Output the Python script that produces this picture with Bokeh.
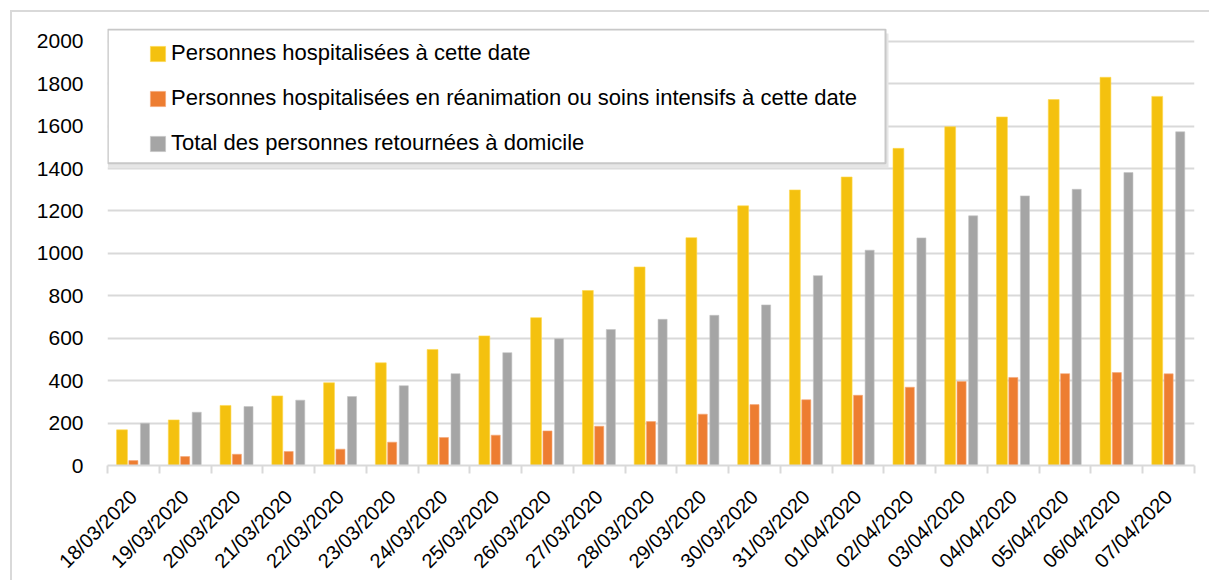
import numpy as np
from math import pi
from bokeh.plotting import figure
from bokeh.models import ColumnDataSource, Range1d, FixedTicker, Legend, LegendItem
from bokeh.transform import dodge
from bokeh.embed import file_html
from bokeh.resources import INLINE

dates = ["18/03/2020", "19/03/2020", "20/03/2020", "21/03/2020", "22/03/2020",
         "23/03/2020", "24/03/2020", "25/03/2020", "26/03/2020", "27/03/2020",
         "28/03/2020", "29/03/2020", "30/03/2020", "31/03/2020", "01/04/2020",
         "02/04/2020", "03/04/2020", "04/04/2020", "05/04/2020", "06/04/2020",
         "07/04/2020"]
hospitalises = [168, 215, 283, 328, 390, 484, 547, 611, 697, 825, 936, 1074,
                1224, 1299, 1360, 1495, 1597, 1643, 1725, 1830, 1740]
reanimation = [23, 42, 53, 66, 77, 110, 132, 143, 163, 185, 207, 242,
               287, 310, 331, 369, 396, 415, 433, 438, 432]
domicile = [199, 251, 278, 308, 325, 376, 433, 532, 598, 641, 689, 708,
            757, 895, 1015, 1073, 1177, 1271, 1302, 1381, 1573]
y_ticks = list(range(0, 2001, 200))

labels = ["Personnes hospitalisées à cette date",
          "Personnes hospitalisées en réanimation ou soins intensifs à cette date",
          "Total des personnes retournées à domicile"]
colors = ["#F4C10F", "#ED7D31", "#A5A5A5"]

n = len(dates)
centers = [i + 0.5 for i in range(n)]
bounds = [float(i) for i in range(n + 1)]

src = ColumnDataSource(dict(x=centers, h=hospitalises, r=reanimation, d=domicile))

FONT = "Liberation Sans"
p = figure(width=1199, height=570, x_range=Range1d(0, n), y_range=Range1d(0, 2060),
           output_backend="svg", toolbar_location=None, tools="",
           min_border_left=95, min_border_right=17, min_border_top=16,
           min_border_bottom=117)
p.styles = {"margin-left": "10px", "margin-top": "10px",
            "border-left": "2px solid #d9d9d9", "border-top": "2px solid #d9d9d9"}
p.outline_line_color = None
p.background_fill_color = "white"

# legend box (shadow + box)
px_x = n / 1087.0
px_y = 2060 / 436.7
lx0, lx1 = 0.3 * px_x, 778 * px_x
ly0, ly1 = 2000 - (163 - 41) * px_y, 2000 + (41 - 29.3) * px_y
p.quad(left=[lx0], right=[lx1 + 3 * px_x], bottom=[ly0 - 5 * px_y], top=[ly1 - 4 * px_y],
       fill_color="#e6e6e6", line_color=None)
p.quad(left=[lx0], right=[lx1], bottom=[ly0], top=[ly1],
       fill_color="white", line_color="#c8c8c8", line_width=2)

r1 = p.vbar(x=dodge("x", -0.22, range=p.x_range), top="h", width=0.21, source=src,
            fill_color=colors[0], line_color="#FFD84D", line_width=0.6)
r2 = p.vbar(x=dodge("x", 0.0, range=p.x_range), top="r", width=0.175, source=src,
            fill_color=colors[1], line_color="#F5A878", line_width=0.6)
r3 = p.vbar(x=dodge("x", 0.224, range=p.x_range), top="d", width=0.175, source=src,
            fill_color=colors[2], line_color="#C4C4C4", line_width=0.6)

# axes
p.yaxis.ticker = FixedTicker(ticks=y_ticks)
p.yaxis.axis_line_color = None
p.yaxis.major_tick_line_color = None
p.yaxis.major_tick_out = 0
p.yaxis.major_tick_in = 0
p.yaxis.minor_tick_line_color = None
p.yaxis.major_label_standoff = 24
p.yaxis.major_label_text_font = FONT
p.yaxis.major_label_text_font_size = "21px"
p.yaxis.major_label_text_color = "#000000"

p.xaxis.ticker = FixedTicker(ticks=centers, minor_ticks=bounds)
p.xaxis.major_label_overrides = {c: d for c, d in zip(centers, dates)}
p.xaxis.major_label_orientation = pi / 4
p.xaxis.axis_line_color = "#d9d9d9"
p.xaxis.axis_line_width = 2
p.xaxis.major_tick_line_color = None
p.xaxis.major_tick_out = 6
p.xaxis.minor_tick_line_color = "#d9d9d9"
p.xaxis.minor_tick_line_width = 2
p.xaxis.minor_tick_out = 8
p.xaxis.minor_tick_in = 0
p.xaxis.major_label_standoff = 20
p.xaxis.major_label_text_font = FONT
p.xaxis.major_label_text_font_size = "20px"
p.xaxis.major_label_text_color = "#000000"

p.xgrid.grid_line_color = None
p.ygrid.ticker = FixedTicker(ticks=y_ticks)
p.ygrid.grid_line_color = "#d9d9d9"
p.ygrid.grid_line_width = 2

legend = Legend(items=[LegendItem(label=labels[0], renderers=[r1]),
                       LegendItem(label=labels[1], renderers=[r2]),
                       LegendItem(label=labels[2], renderers=[r3])],
                location=(41, 309), padding=5, spacing=19, margin=0,
                glyph_width=19, glyph_height=19, label_height=26, label_standoff=4,
                label_text_font=FONT, label_text_font_size="22px",
                label_text_color="#000000",
                border_line_color=None, background_fill_alpha=0)
p.add_layout(legend)

open("out.html", "w").write(file_html(p, INLINE))
